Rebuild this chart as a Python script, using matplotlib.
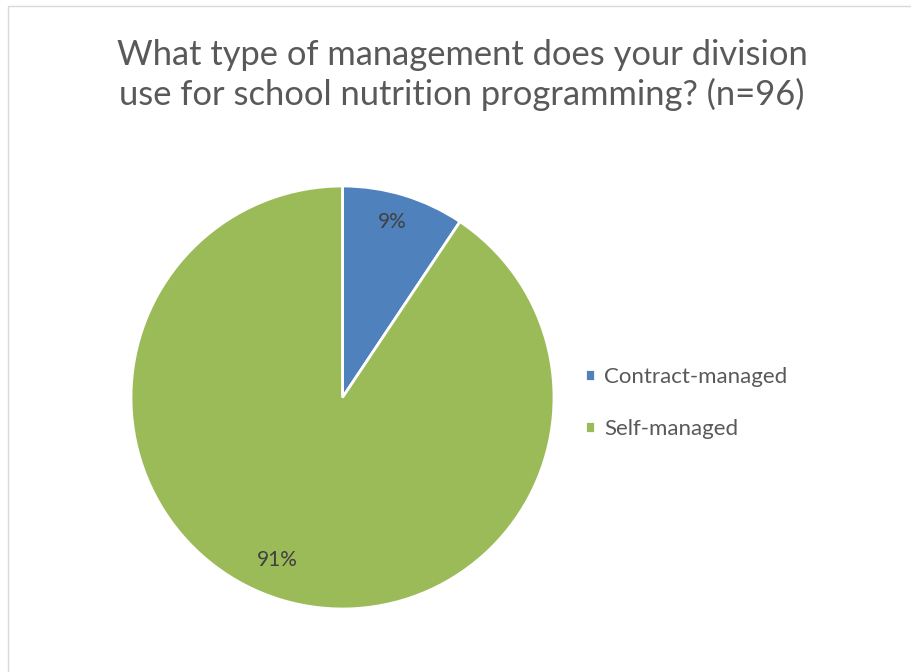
import matplotlib
matplotlib.use('Agg')
import matplotlib.pyplot as plt
from matplotlib.patches import Rectangle

# Antworten auf die Umfrage (n=96)
kategorien = ['Contract-managed', 'Self-managed']
anzahl = [9, 87]
farben = ['#4F81BD', '#9BBB59']

titel = 'What type of management does your division\nuse for school nutrition programming? (n=96)'

plt.rcParams['font.family'] = ['Lato', 'DejaVu Sans']

W, H = 911, 672
fig = plt.figure(figsize=(W / 100, H / 100), dpi=100)

# Rahmen um das Diagramm (rechts und unten ausserhalb des Bildes)
fig.patches.append(Rectangle((7.5 / W, -0.1), 1.2, (H - 5.5) / H + 0.1,
                             transform=fig.transFigure, fill=False,
                             edgecolor='#D9D9D9', linewidth=1))

# Kreis: Mitte (342.5, 397.5), Radius 211.5 Pixel
r = 211.5
cx, cy = 342.5, 397.5
ax = fig.add_axes([(cx - r) / W, (H - cy - r) / H, 2 * r / W, 2 * r / H])

wedges, texts, autotexts = ax.pie(
    anzahl, colors=farben, startangle=90, counterclock=False,
    autopct=lambda p: '%.0f%%' % p, pctdistance=0.84,
    wedgeprops=dict(edgecolor='white', linewidth=2),
    textprops=dict(color='#404040', fontsize=15))
# Beschriftungen etwas verschieben
autotexts[0].set_position((0.234, 0.83))
autotexts[1].set_position((-0.31, -0.768))
ax.set_xlim(-1, 1)
ax.set_ylim(-1, 1)
ax.axis('off')

# Titel
fig.text(462 / W, 1 - 75 / H, titel, ha='center', va='center',
         fontsize=24.8, color='#595959', linespacing=1.25)

# Legende
fig.legend(wedges, kategorien, loc='center left',
           bbox_to_anchor=(565 / W, 1 - 403 / H), frameon=False,
           fontsize=16, labelcolor='#595959', handlelength=0.45,
           handleheight=0.45, handletextpad=0.4, labelspacing=1.45)

fig.savefig('out.png', dpi=100)
